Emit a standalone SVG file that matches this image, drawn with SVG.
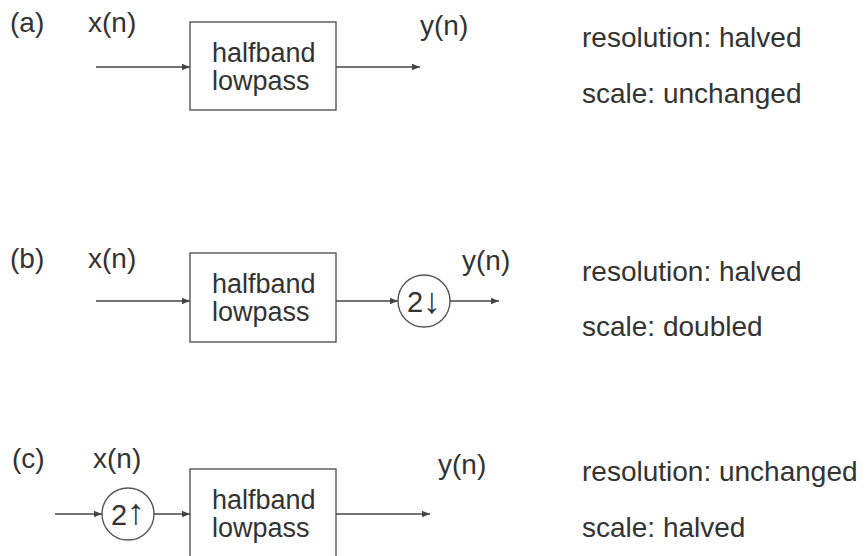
<svg xmlns="http://www.w3.org/2000/svg" width="866" height="556" viewBox="0 0 866 556">
  <defs>
    <style>
      text { font-family: "Liberation Sans", Arial, sans-serif; fill: #333; }
      .lbl { font-size: 28px; }
      .box text { font-size: 27px; }
      .note { font-size: 28px; }
      .blk { fill: #fff; stroke: #555; stroke-width: 1.4; }
      .wire { fill: none; stroke: #444; stroke-width: 1.4; marker-end: url(#ah); }
      .op text { font-size: 29px; text-anchor: middle; }
      .op tspan.dir { font-size: 36px; }
    </style>
    <marker id="ah" viewBox="0 0 10 8" refX="10" refY="4" markerWidth="8" markerHeight="6.4" markerUnits="userSpaceOnUse" orient="auto">
      <path d="M0,0 L10,4 L0,8 Z" fill="#444"/>
    </marker>
  </defs>
  <rect width="866" height="556" fill="#fff"/>

  <!-- (a) filter only -->
  <g id="label-a">
    <text class="lbl" x="10" y="32">(a)</text>
    <text class="lbl" x="88" y="32">x(n)</text>
    <text class="lbl" x="420" y="35">y(n)</text>
  </g>
  <g id="filter-a" class="box">
    <rect class="blk" x="190" y="22" width="146" height="88"/>
    <text x="212" y="62">halfband</text>
    <text x="212" y="90">lowpass</text>
  </g>
  <g id="notes-a">
    <text class="note" x="582" y="47">resolution: halved</text>
    <text class="note" x="582" y="103">scale: unchanged</text>
  </g>

  <!-- (b) filter then downsample -->
  <g id="label-b">
    <text class="lbl" x="10" y="268">(b)</text>
    <text class="lbl" x="88" y="268">x(n)</text>
    <text class="lbl" x="462" y="270">y(n)</text>
  </g>
  <g id="filter-b" class="box">
    <rect class="blk" x="190" y="253" width="146" height="89"/>
    <text x="212" y="293">halfband</text>
    <text x="212" y="321">lowpass</text>
  </g>
  <g id="down-b" class="op">
    <circle class="blk" cx="424" cy="301" r="26"/>
    <text x="424" y="312">2<tspan class="dir" dy="1">↓</tspan></text>
  </g>
  <g id="notes-b">
    <text class="note" x="582" y="281">resolution: halved</text>
    <text class="note" x="582" y="336">scale: doubled</text>
  </g>

  <!-- (c) upsample then filter -->
  <g id="label-c">
    <text class="lbl" x="12" y="468">(c)</text>
    <text class="lbl" x="93" y="468">x(n)</text>
    <text class="lbl" x="438" y="474">y(n)</text>
  </g>
  <g id="up-c" class="op">
    <circle class="blk" cx="128" cy="514" r="26"/>
    <text x="128" y="525">2<tspan class="dir" dy="-1">↑</tspan></text>
  </g>
  <g id="filter-c" class="box">
    <rect class="blk" x="190" y="469" width="146" height="100"/>
    <text x="212" y="509">halfband</text>
    <text x="212" y="537">lowpass</text>
  </g>
  <g id="notes-c">
    <text class="note" x="582" y="481">resolution: unchanged</text>
    <text class="note" x="582" y="537">scale: halved</text>
  </g>

  <!-- signal paths -->
  <g id="connectors">
    <line class="wire" x1="96" y1="67" x2="190" y2="67"/>
    <line class="wire" x1="336" y1="67" x2="420" y2="67"/>
    <line class="wire" x1="96" y1="301" x2="190" y2="301"/>
    <line class="wire" x1="336" y1="301" x2="398" y2="301"/>
    <line class="wire" x1="450" y1="301" x2="499" y2="301"/>
    <line class="wire" x1="55" y1="514" x2="102" y2="514"/>
    <line class="wire" x1="154" y1="514" x2="190" y2="514"/>
    <line class="wire" x1="336" y1="514" x2="430" y2="514"/>
  </g>
</svg>
